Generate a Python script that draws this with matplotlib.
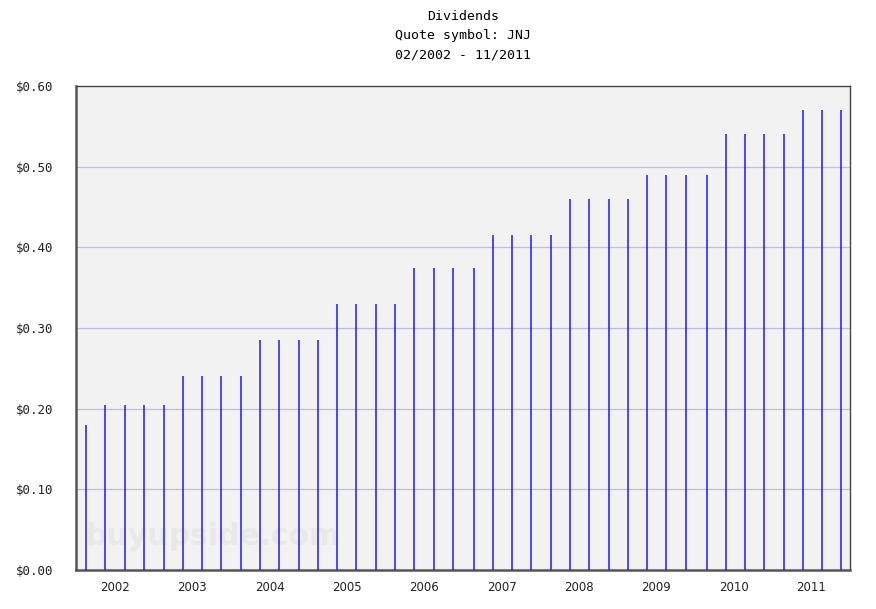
import numpy as np
import matplotlib
matplotlib.use('Agg')
import matplotlib.pyplot as plt
import matplotlib.dates as mdates

# quarterly JNJ dividends, 02/2002 - 11/2011
ex_dates = ['2002-02-19', '2002-05-20', '2002-08-19', '2002-11-18',
            '2003-02-18', '2003-05-20', '2003-08-19', '2003-11-18',
            '2004-02-17', '2004-05-18', '2004-08-17', '2004-11-16',
            '2005-02-15', '2005-05-17', '2005-08-16', '2005-11-15',
            '2006-02-14', '2006-05-16', '2006-08-15', '2006-11-14',
            '2007-02-20', '2007-05-22', '2007-08-21', '2007-11-20',
            '2008-02-19', '2008-05-20', '2008-08-19', '2008-11-18',
            '2009-02-17', '2009-05-19', '2009-08-18', '2009-11-17',
            '2010-02-23', '2010-05-25', '2010-08-24', '2010-11-23',
            '2011-02-22', '2011-05-24', '2011-08-23', '2011-11-18']
dividends = [0.18, 0.205, 0.205, 0.205,
             0.205, 0.24, 0.24, 0.24,
             0.24, 0.285, 0.285, 0.285,
             0.285, 0.33, 0.33, 0.33,
             0.33, 0.375, 0.375, 0.375,
             0.375, 0.415, 0.415, 0.415,
             0.415, 0.46, 0.46, 0.46,
             0.46, 0.49, 0.49, 0.49,
             0.49, 0.54, 0.54, 0.54,
             0.54, 0.57, 0.57, 0.57]
years = list(range(2002, 2012))
yticks = [0.0, 0.1, 0.2, 0.3, 0.4, 0.5, 0.6]

x = mdates.datestr2num(ex_dates)

fig = plt.figure(figsize=(8.76, 6.09), dpi=100)
ax = fig.add_axes([76 / 876, 1 - 570 / 609, 774 / 876, 484 / 609])
ax.set_facecolor('#f2f2f2')

for yv in yticks[1:-1]:
    ax.axhline(yv, color='#bcbcf0', lw=0.9, zorder=1)

ax.vlines(x, 0, dividends, color='#1a1aff', lw=1.1, zorder=3)

ax.set_xlim(mdates.datestr2num('2002-01-01'), mdates.datestr2num('2012-01-01'))
ax.set_ylim(0, 0.6)

mid = [mdates.datestr2num('%d-07-02' % y) for y in years]
ax.set_xticks(mid)
ax.set_xticklabels([str(y) for y in years], fontsize=8.5, color='#222222')
ax.set_yticks(yticks)
ax.set_yticklabels(['$%.2f' % v for v in yticks], fontsize=9, color='#222222',
                   family='DejaVu Sans Mono')
ax.tick_params(length=0, pad=8)
ax.tick_params(axis='y', pad=16)

for s in ['left', 'bottom']:
    ax.spines[s].set_color('#555555')
    ax.spines[s].set_linewidth(1.8)
for s in ['top', 'right']:
    ax.spines[s].set_color('#444444')
    ax.spines[s].set_linewidth(1.0)

ax.text(0.012, 0.07, 'buyupside.com', transform=ax.transAxes, fontsize=21.5,
        fontweight='bold', color='#e8e8e8', zorder=2, va='center')

for i, t in enumerate(['Dividends', 'Quote symbol: JNJ', '02/2002 - 11/2011']):
    fig.text(463 / 876, 1 - (16 + i * 19.5) / 609, t, ha='center', va='center',
             fontsize=9.5, family='DejaVu Sans Mono')

fig.savefig('out.png', dpi=100)
